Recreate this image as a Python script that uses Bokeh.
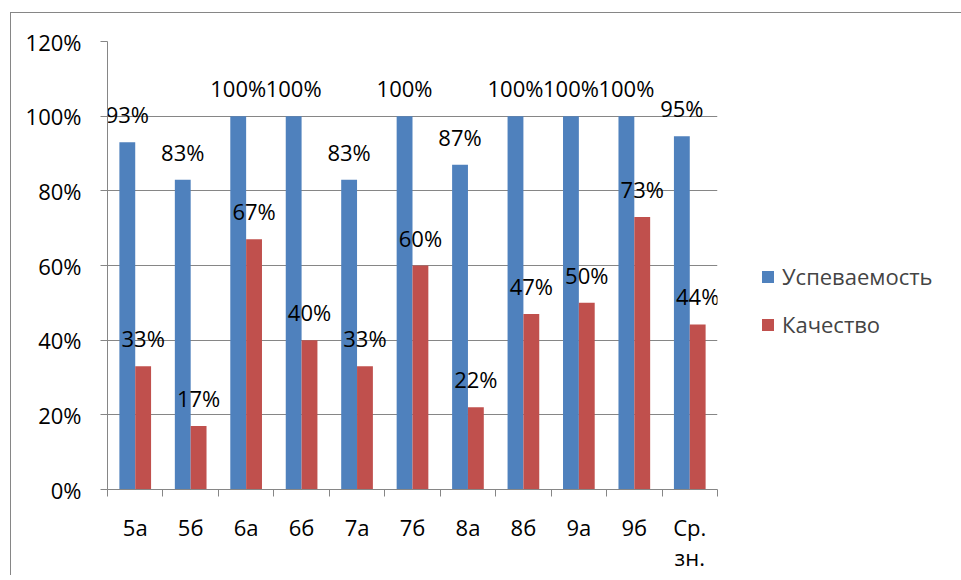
import numpy as np
from bokeh.plotting import figure
from bokeh.models import (ColumnDataSource, FixedTicker, PrintfTickFormatter, Legend, LegendItem,
                          Range1d, CustomJSTickFormatter)
from bokeh.core.properties import value
from bokeh.transform import dodge
from bokeh.embed import file_html
from bokeh.resources import INLINE

# ---- data ----
categories = ["5а", "5б", "6а", "6б", "7а", "7б", "8а", "8б", "9а", "9б", "Ср.\nзн."]
success = [93, 83, 100, 100, 83, 100, 87, 100, 100, 100, 94.6]
quality = [33, 17, 67, 40, 33, 60, 22, 47, 50, 73, 44.2]
series_names = ["Успеваемость", "Качество"]
series_colors = ["#4F81BD", "#C0504D"]
y_ticks = [0, 20, 40, 60, 80, 100, 120]

FONT = "Open Sans"
FS = "22px"
GREY = "#868686"

n = len(categories)
xs = [i + 0.5 for i in range(n)]
bw = 1 / 3.5

src = ColumnDataSource(dict(
    x=xs,
    success=success,
    quality=quality,
    s_lbl=[f"{round(v)}%" for v in success],
    q_lbl=[f"{round(v)}%" for v in quality],
))

p = figure(frame_width=610, frame_height=448, output_backend="svg", toolbar_location=None,
           x_range=Range1d(0, n), y_range=Range1d(0, y_ticks[-1]),
           min_border_left=96, min_border_top=28, min_border_right=224, min_border_bottom=60,
           margin=(12, 0, 0, 10))
p.styles = {"border-left": f"1px solid {GREY}", "border-top": f"1px solid {GREY}"}
p.outline_line_color = None
p.background_fill_color = "white"
p.border_fill_color = "white"

r1 = p.vbar(x=dodge("x", -bw / 2), top="success", width=bw, source=src,
            fill_color=series_colors[0], line_color=None)
r2 = p.vbar(x=dodge("x", bw / 2), top="quality", width=bw, source=src,
            fill_color=series_colors[1], line_color=None)

for col, lbl, off in (("success", "s_lbl", -bw / 2), ("quality", "q_lbl", bw / 2)):
    p.text(x=dodge("x", off), y=col, text=lbl, source=src, text_align="center",
           text_baseline="alphabetic", y_offset=-28, text_font=value(FONT),
           text_font_size=FS, text_color="black")

# y axis
p.yaxis.ticker = FixedTicker(ticks=y_ticks)
p.yaxis.formatter = PrintfTickFormatter(format="%d%%")
p.yaxis.axis_line_color = GREY
p.yaxis.major_tick_line_color = GREY
p.yaxis.major_tick_out = 7
p.yaxis.major_tick_in = 0
p.yaxis.minor_tick_line_color = None
p.yaxis.major_label_standoff = 19
p.yaxis.major_label_text_font = FONT
p.yaxis.major_label_text_font_size = FS
p.yaxis.major_label_text_color = "black"

# x axis: labels at centres, tick marks at category boundaries
p.xaxis.ticker = FixedTicker(ticks=xs, minor_ticks=list(range(n + 1)))
p.xaxis.formatter = CustomJSTickFormatter(args=dict(cats=categories),
                                          code="return cats[Math.floor(tick)];")
p.xaxis.axis_line_color = GREY
p.xaxis.major_tick_line_color = None
p.xaxis.major_tick_out = 0
p.xaxis.major_tick_in = 0
p.xaxis.minor_tick_line_color = GREY
p.xaxis.minor_tick_out = 7
p.xaxis.minor_tick_in = 0
p.xaxis.major_label_standoff = 15
p.xaxis.major_label_text_font = FONT
p.xaxis.major_label_text_font_size = FS
p.xaxis.major_label_text_color = "black"
p.xaxis.major_label_text_line_height = 1.03

p.xgrid.grid_line_color = None
p.ygrid.ticker = FixedTicker(ticks=y_ticks)
p.ygrid.grid_line_color = GREY

legend = Legend(items=[LegendItem(label=series_names[0], renderers=[r1]),
                       LegendItem(label=series_names[1], renderers=[r2])],
                location=(43, 150), margin=0, padding=0, spacing=18,
                glyph_width=15, glyph_height=15, label_standoff=7,
                label_text_font=FONT, label_text_font_size=FS,
                background_fill_alpha=0, border_line_color=None)
p.add_layout(legend, "right")

open("out.html", "w").write(file_html(p, INLINE))
